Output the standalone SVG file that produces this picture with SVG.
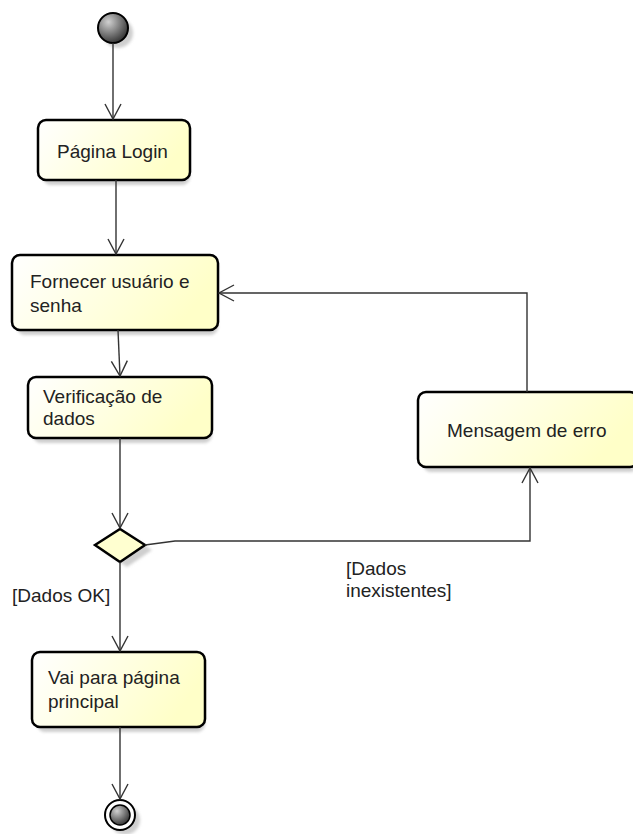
<svg xmlns="http://www.w3.org/2000/svg" width="633" height="834" viewBox="0 0 633 834">
<style>
.box{fill:url(#yg);stroke:#000;stroke-width:2.5}
.sh{fill:#cfcfcf;filter:url(#bl)}
.t{font-family:"Liberation Sans",Arial,sans-serif;font-size:19px;fill:#222}
.c{fill:none;stroke:#333;stroke-width:1.4}
</style>
<defs>
<linearGradient id="yg" x1="0" y1="0" x2="1" y2="0.3">
<stop offset="0" stop-color="#ffffff"/>
<stop offset="1" stop-color="#ffffc8"/>
</linearGradient>
<radialGradient id="gg" cx="0.35" cy="0.3" r="0.75">
<stop offset="0" stop-color="#d0d0d0"/>
<stop offset="1" stop-color="#303030"/>
</radialGradient>
<filter id="bl" x="-20%" y="-20%" width="140%" height="140%"><feGaussianBlur stdDeviation="1.5"/></filter>
<marker id="ar" viewBox="0 0 20 20" refX="17" refY="10" markerWidth="20" markerHeight="20" markerUnits="userSpaceOnUse" orient="auto">
<path d="M2,2 L17,10 L2,18" fill="none" stroke="#333" stroke-width="1.4"/>
</marker>
</defs>

<g id="start">
<circle cx="118" cy="33" r="15" class="sh"/>
<circle cx="113" cy="28" r="15" fill="url(#gg)" stroke="#000" stroke-width="2"/>
</g>

<g id="pagina-login">
<rect x="43" y="125" width="147" height="60" rx="8" class="sh"/>
<rect x="38" y="120" width="152" height="60" rx="8" class="box"/>
<text x="57" y="158" class="t">Página Login</text>
</g>

<g id="fornecer">
<rect x="17" y="260" width="201" height="75" rx="8" class="sh"/>
<rect x="12" y="255" width="206" height="75" rx="8" class="box"/>
<text x="30" y="288" class="t">Fornecer usuário e</text>
<text x="30" y="312" class="t">senha</text>
</g>

<g id="verificacao">
<rect x="33" y="382" width="179" height="61" rx="8" class="sh"/>
<rect x="28" y="377" width="184" height="61" rx="8" class="box"/>
<text x="43" y="403" class="t">Verificação de</text>
<text x="43" y="425" class="t">dados</text>
</g>

<g id="mensagem">
<rect x="423" y="397" width="215" height="75" rx="8" class="sh"/>
<rect x="418" y="392" width="220" height="75" rx="8" class="box"/>
<text x="447" y="437" class="t">Mensagem de erro</text>
</g>

<g id="decisao">
<path d="M102,550 L127,534 L152,550 L127,567 Z" class="sh"/>
<path d="M95,545 L120,529 L145,545 L120,562 Z" fill="#ffffd0" stroke="#000" stroke-width="2.5" stroke-linejoin="miter"/>
</g>

<g id="vai-principal">
<rect x="37" y="657" width="168" height="75" rx="8" class="sh"/>
<rect x="32" y="652" width="173" height="75" rx="8" class="box"/>
<text x="48" y="684" class="t">Vai para página</text>
<text x="48" y="708" class="t">principal</text>
</g>

<g id="end">
<circle cx="125" cy="820" r="15" class="sh"/>
<circle cx="120" cy="815" r="15" fill="#fff" stroke="#000" stroke-width="2"/>
<circle cx="120" cy="815" r="10" fill="url(#gg)" stroke="#000" stroke-width="1.5"/>
</g>

<g id="connectors">
<path d="M113,43 L113,119" class="c" marker-end="url(#ar)"/>
<path d="M116,180 L116,254" class="c" marker-end="url(#ar)"/>
<path d="M118,330 L120,376" class="c" marker-end="url(#ar)"/>
<path d="M120,438 L120,528" class="c" marker-end="url(#ar)"/>
<path d="M145,545 L175,541 L530,541 L530,468" class="c" marker-end="url(#ar)"/>
<path d="M527,392 L527,293 L219,293" class="c" marker-end="url(#ar)"/>
<path d="M120,562 L120,651" class="c" marker-end="url(#ar)"/>
<path d="M120,727 L120,799" class="c" marker-end="url(#ar)"/>
</g>

<g id="labels">
<text x="12" y="602" class="t">[Dados OK]</text>
<text x="346" y="575" class="t">[Dados</text>
<text x="346" y="597" class="t">inexistentes]</text>
</g>
</svg>
